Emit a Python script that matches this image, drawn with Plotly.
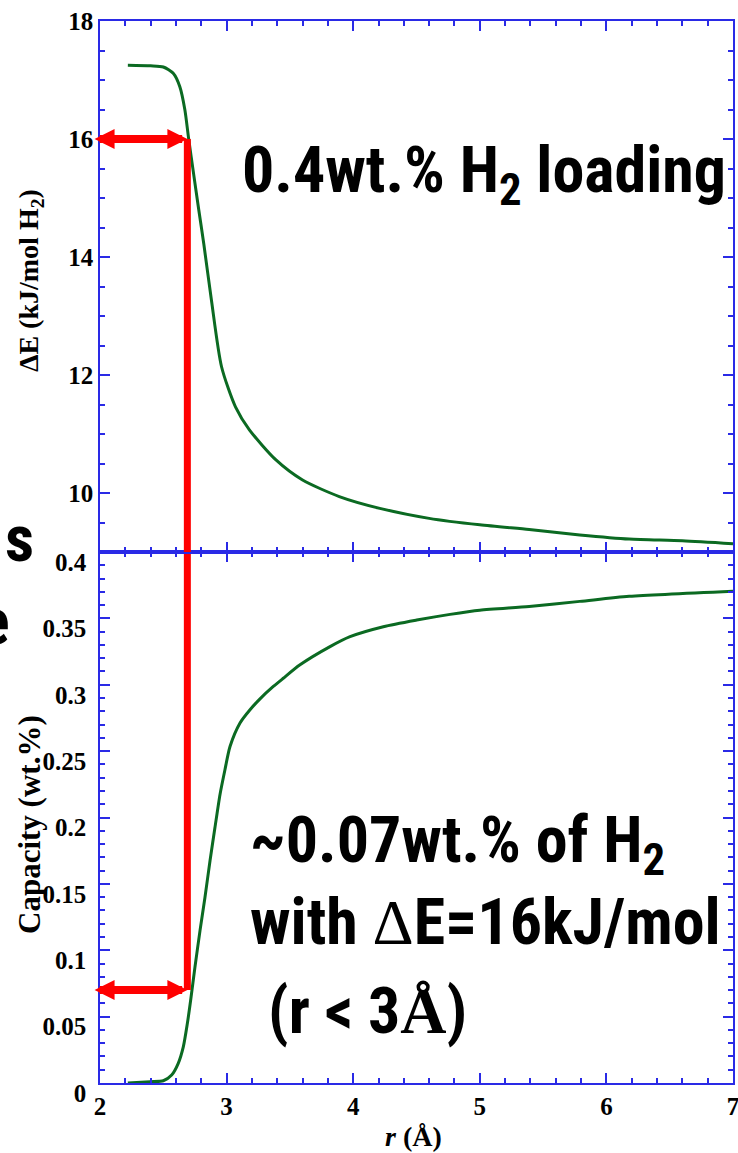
import plotly.graph_objects as go

# Adsorption energy vs. distance (top panel)
r_energy = [2.22, 2.40, 2.50, 2.58, 2.63, 2.67, 2.70, 2.74, 2.78, 2.82, 2.88, 2.96,
            3.07, 3.18, 3.39, 3.60, 3.89, 4.21, 4.60, 5.00, 5.39, 5.79, 6.18, 6.60, 7.00]
delta_e = [17.25, 17.24, 17.22, 17.11, 16.89, 16.50, 16.01, 15.40, 14.80, 14.22, 13.27, 12.14,
           11.46, 11.07, 10.56, 10.22, 9.94, 9.74, 9.57, 9.46, 9.38, 9.29, 9.22, 9.19, 9.14]

# Cumulative H2 capacity vs. distance (bottom panel)
r_capacity = [2.22, 2.395, 2.50, 2.566, 2.618, 2.658, 2.690, 2.716, 2.750, 2.790, 2.829, 2.869,
              2.908, 2.948, 2.987, 3.027, 3.106, 3.185, 3.264, 3.369, 3.448, 3.580, 3.817, 3.975,
              4.238, 4.502, 4.765, 5.00, 5.39, 5.79, 6.18, 7.00]
capacity = [0.0, 0.001, 0.0017, 0.006, 0.0148, 0.0272, 0.0448, 0.0623, 0.0873, 0.1148, 0.1398, 0.1674,
            0.1924, 0.2174, 0.2360, 0.2535, 0.2712, 0.2812, 0.2894, 0.2987, 0.3049, 0.3150, 0.3287,
            0.3362, 0.3437, 0.3487, 0.3530, 0.3562, 0.359, 0.3628, 0.3666, 0.3705]

# Cut-off marked by the red guide arrows
r_cut = 2.69
e_cut = 16
cap_cut = 0.07
r_arrow_tail = 1.945

R_RANGE = [2, 7]
E_RANGE = [9, 18]
CAP_RANGE = [0, 0.4]

GREEN = "#0b6a22"
RED = "#ff0000"
AXIS_BLUE = "#2a2ae6"
SERIF = "Liberation Serif, Times New Roman, serif"
CONDENSED = "Roboto Condensed, Liberation Sans, sans-serif"

fig = go.Figure()

fig.add_trace(go.Scatter(x=r_energy, y=delta_e, xaxis="x2", yaxis="y2", mode="lines",
                         line=dict(color=GREEN, width=3, shape="spline", smoothing=0.7),
                         showlegend=False))
fig.add_trace(go.Scatter(x=r_capacity, y=capacity, xaxis="x", yaxis="y", mode="lines",
                         line=dict(color=GREEN, width=3, shape="spline", smoothing=0.7),
                         showlegend=False))

# vertical guide through both panels
fig.add_trace(go.Scatter(x=[r_cut, r_cut], y=[e_cut, E_RANGE[0]], xaxis="x2", yaxis="y2",
                         mode="lines", line=dict(color=RED, width=7), showlegend=False))
fig.add_trace(go.Scatter(x=[r_cut, r_cut], y=[CAP_RANGE[1], cap_cut], xaxis="x", yaxis="y",
                         mode="lines", line=dict(color=RED, width=7), showlegend=False))


def double_arrow(y, xref, yref):
    fig.add_annotation(x=r_cut, y=y, ax=r_arrow_tail, ay=y, xref=xref, yref=yref,
                       axref=xref, ayref=yref, text="", showarrow=True,
                       arrowside="end+start", arrowhead=2, startarrowhead=2,
                       arrowsize=0.5, startarrowsize=0.5, arrowwidth=8,
                       arrowcolor=RED, standoff=0, startstandoff=0)


double_arrow(e_cut, "x2", "y2")
double_arrow(cap_cut, "x", "y")

tick_font = dict(family=SERIF, size=25, color="black", weight="bold")
common_x = dict(range=R_RANGE, dtick=1, ticks="inside", ticklen=10, tickwidth=1.5,
                tickcolor=AXIS_BLUE, showline=True, linecolor=AXIS_BLUE, linewidth=1.5,
                mirror="ticks", showgrid=False, zeroline=False, automargin=False,
                ticklabeloverflow="allow",
                minor=dict(dtick=0.2, ticks="inside", ticklen=5, tickcolor=AXIS_BLUE, showgrid=False))

fig.update_layout(
    width=738, height=1153,
    margin=dict(l=100, r=5, t=21, b=70, autoexpand=False),
    plot_bgcolor="white", paper_bgcolor="white",
    showlegend=False,
    xaxis=dict(**common_x, anchor="y", tickfont=tick_font),
    xaxis2=dict(**common_x, anchor="y2", matches="x", showticklabels=False),
    yaxis=dict(domain=[0, 0.5], range=CAP_RANGE, dtick=0.05, ticks="inside", ticklen=10,
               tickwidth=1.5, tickcolor=AXIS_BLUE, showline=True, linecolor=AXIS_BLUE,
               linewidth=1.5, mirror="ticks", showgrid=False, zeroline=False, automargin=False,
               tickfont=tick_font, ticklabelshift=10, ticklabelstandoff=7,
               minor=dict(dtick=0.01, ticks="inside", ticklen=5, tickcolor=AXIS_BLUE, showgrid=False)),
    yaxis2=dict(domain=[0.5, 1], range=E_RANGE, tick0=10, dtick=2, ticks="inside", ticklen=10,
                tickwidth=1.5, tickcolor=AXIS_BLUE, showline=True, linecolor=AXIS_BLUE,
                linewidth=1.5, mirror="ticks", showgrid=False, zeroline=False, automargin=False,
                tickfont=tick_font,
                minor=dict(dtick=0.5, ticks="inside", ticklen=5, tickcolor=AXIS_BLUE, showgrid=False)),
)

title_font = dict(family=SERIF, size=28, color="black", weight="bold")
big_font = dict(family=CONDENSED, size=64, color="black", weight="bold")


def paper_note(text, x, y, font, xanchor="left", angle=0):
    fig.add_annotation(text=text, xref="paper", yref="paper", x=x, y=y, xanchor=xanchor,
                       yanchor="middle", showarrow=False, font=font, textangle=angle)


# axis titles
paper_note("ΔE (kJ/mol H<sub>2</sub>)", -0.1106, 0.756, title_font, "center", -90)
paper_note("Capacity (wt.%)", -0.1106, 0.2439, dict(title_font, size=31), "center", -90)
paper_note("<i>r</i> (Å)", 0.4945, -0.0508, title_font, "center")

# callouts
paper_note("0.4wt.% H<sub>2</sub> loading", 0.2212, 0.855, big_font)
paper_note("~0.07wt.% of H<sub>2</sub>", 0.2338, 0.225, big_font)
paper_note("with <span style=\"font-family:Liberation Serif;font-weight:normal\">Δ</span>E=16kJ/mol",
           0.2338, 0.1507, big_font)
paper_note("(r < 3<span style=\"font-family:Liberation Serif\">Å</span>)", 0.2622, 0.0669, big_font)

# fragments of neighbouring text at the left edge
paper_note("s", -0.1532, 0.5122, big_font)
paper_note("e", -0.139, 0.434, big_font, "right")

fig.write_html("out.html")
